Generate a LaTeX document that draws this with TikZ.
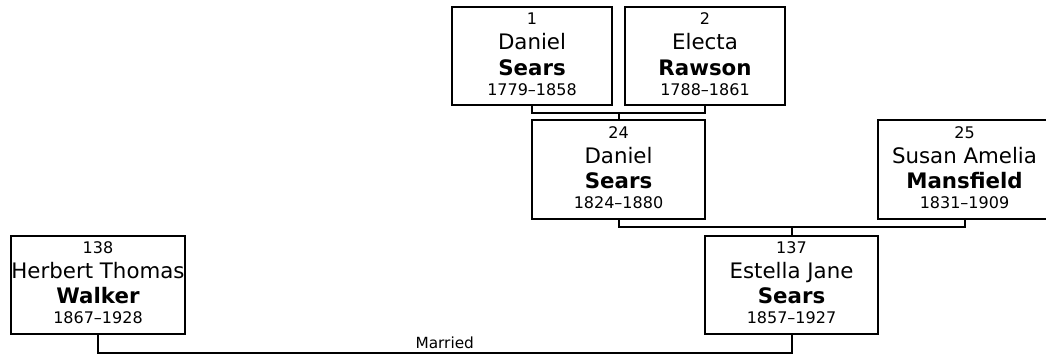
\documentclass[tikz,border=0pt]{standalone}
\usepackage{fontspec}
\setmainfont{DejaVu Sans}
\usetikzlibrary{positioning}

\newcommand{\idno}[1]{{\fontsize{12pt}{19pt}\selectfont #1}}
\newcommand{\lifespan}[1]{{\fontsize{12pt}{19pt}\selectfont #1\rule[-3pt]{0pt}{0pt}}}

\begin{document}
\begin{tikzpicture}[x=0.75pt,y=0.75pt,person/.style={draw=black,line width=1.5pt,fill=white,minimum width=129.75pt,minimum height=73.5pt,inner sep=0pt,align=center,font=\fontsize{16pt}{19pt}\selectfont},narrow/.style={person,minimum width=120pt},link/.style={draw=black,line width=1.5pt},tag/.style={font=\fontsize{11.5pt}{14pt}\selectfont,inner sep=2pt}]
\useasboundingbox (0,0) rectangle (1046,354);
\node[narrow] (daniel1) at (532,298) {\idno{1}\\Daniel\\\textbf{Sears}\\[-4pt]\lifespan{1779--1858}};
\node[narrow] (electa) at (705,298) {\idno{2}\\Electa\\\textbf{Rawson}\\[-4pt]\lifespan{1788--1861}};
\node[person] (daniel24) at (618.5,184.5) {\idno{24}\\Daniel\\\textbf{Sears}\\[-4pt]\lifespan{1824--1880}};
\node[person] (susan) at (964.5,184.5) {\idno{25}\\Susan Amelia\\\textbf{Mansfield}\\[-4pt]\lifespan{1831--1909}};
\node[person] (estella) at (791.5,69.5) {\idno{137}\\Estella Jane\\\textbf{Sears}\\[-4pt]\lifespan{1857--1927}};
\node[person] (herbert) at (98,69.5) {\idno{138}\\Herbert Thomas\\\textbf{Walker}\\[-4pt]\lifespan{1867--1928}};
\draw[link] (daniel1.south) -- ++(0,-7) coordinate (u1) -| (electa.south);
\draw[link] (u1 -| daniel24.north) -- (daniel24.north);
\draw[link] (daniel24.south) -- ++(0,-7) coordinate (u2) -| (susan.south);
\draw[link] (u2 -| estella.north) -- (estella.north);
\draw[link] (herbert.south) -- ++(0,-18) -| node[tag,pos=0.25,above] {Married} (estella.south);
\end{tikzpicture}
\end{document}
